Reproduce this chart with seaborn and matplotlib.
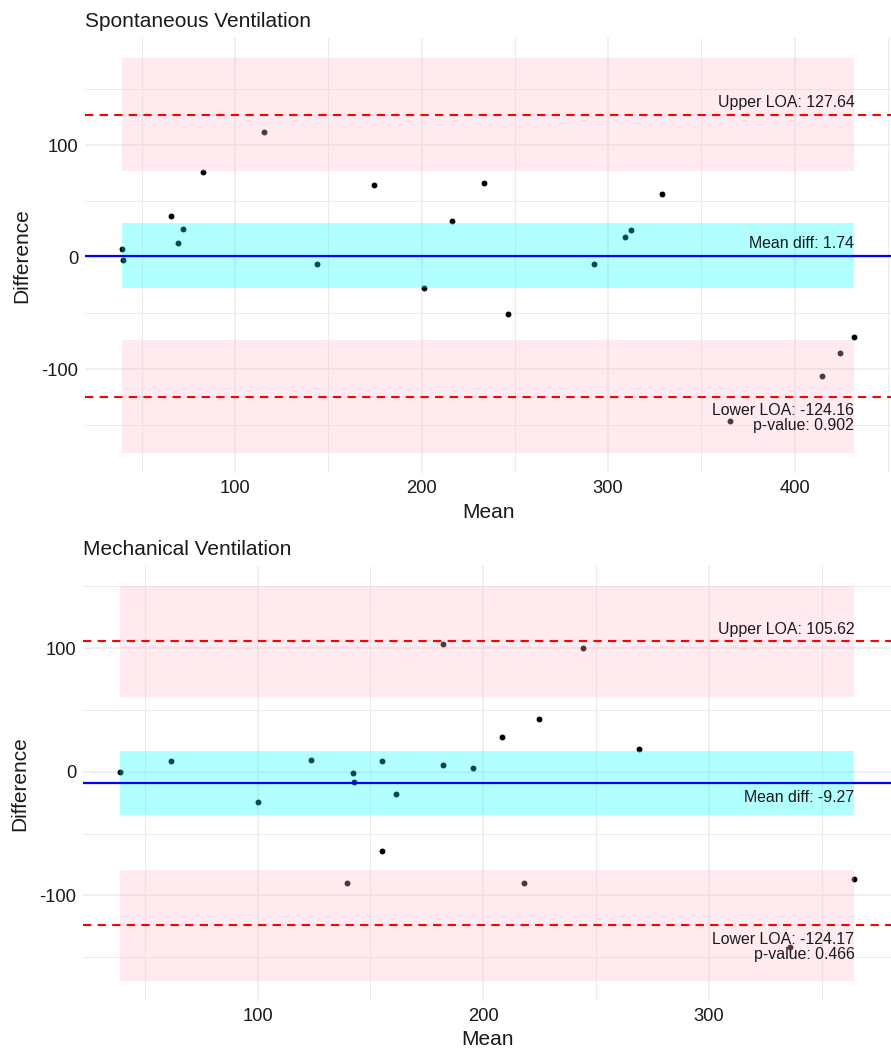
import matplotlib
matplotlib.use("Agg")
import matplotlib.pyplot as plt
from matplotlib.ticker import MultipleLocator
import numpy as np
import pandas as pd
import seaborn as sns

# ---- Spontaneous ventilation: Bland-Altman points ----
spont_mean = [39.1, 39.8, 65.8, 69.4, 72.1, 82.6, 115.5, 143.8, 174.4, 201.4, 216.4,
              233.5, 246.5, 292.2, 308.9, 312.5, 328.7, 365.5, 414.6, 424.4, 432.1]
spont_diff = [7.6, -2.2, 37.3, 13.2, 25.7, 75.9, 111.6, -6.1, 64.3, -27.2, 32.5,
              66.4, -50.4, -6.1, 18.0, 24.8, 56.6, -146.0, -105.6, -85.1, -70.9]
spont_stats = {"mean": 1.74, "upper": 127.64, "lower": -124.16, "p": 0.902}
spont_mean_ci = [-27.50, 30.98]
spont_upper_ci = [76.99, 178.29]
spont_lower_ci = [-174.81, -73.51]

# ---- Mechanical ventilation: Bland-Altman points ----
mech_mean = [38.9, 61.4, 100.1, 123.5, 139.4, 142.3, 142.7, 155.1, 155.1, 161.3,
             182.3, 182.3, 195.3, 208.3, 218.2, 224.6, 244.0, 269.0, 335.8, 364.4]
mech_diff = [0.2, 8.9, -24.8, 9.9, -90.1, -0.6, -8.6, 8.9, -64.0, -17.7,
             5.6, 103.2, 2.9, 28.2, -90.1, 43.0, 100.5, 18.8, -141.9, -86.6]
mech_stats = {"mean": -9.27, "upper": 105.62, "lower": -124.17, "p": 0.466}
mech_mean_ci = [-35.27, 16.73]
mech_upper_ci = [60.6, 150.6]
mech_lower_ci = [-169.2, -79.2]

sns.set_theme(style="white")
plt.rcParams["font.family"] = ["Liberation Sans", "DejaVu Sans"]
plt.rcParams["axes.unicode_minus"] = False

GRID = "#EBEBEB"
TXT = "#1A1A1A"


def bland_altman(ax, means, diffs, stats, mean_ci, upper_ci, lower_ci, title):
    df = pd.DataFrame({"Mean": means, "Difference": diffs})
    x0, x1 = min(means), max(means)

    # points sit under the translucent bands
    sns.scatterplot(data=df, x="Mean", y="Difference", ax=ax, color="black",
                    s=18, linewidth=0, zorder=2)

    for lo_hi, col in ((upper_ci, "pink"), (lower_ci, "pink"), (mean_ci, "cyan")):
        ax.fill_between([x0, x1], lo_hi[0], lo_hi[1], color=col, alpha=0.3,
                        linewidth=0, zorder=3)

    ax.axhline(stats["mean"], color="blue", lw=1.6, zorder=4)
    ax.axhline(stats["upper"], color="red", lw=1.5, ls=(0, (4, 3)), zorder=4)
    ax.axhline(stats["lower"], color="red", lw=1.5, ls=(0, (4, 3)), zorder=4)

    fs = 11.4
    ax.annotate(f"Upper LOA: {stats['upper']:.2f}", xy=(x1, stats["upper"]),
                xytext=(0, 3), textcoords="offset points", ha="right", va="bottom",
                fontsize=fs, color=TXT, zorder=5)
    if stats["mean"] >= 0:
        ax.annotate(f"Mean diff: {stats['mean']:.2f}", xy=(x1, stats["mean"]),
                    xytext=(0, 3), textcoords="offset points", ha="right",
                    va="bottom", fontsize=fs, color=TXT, zorder=5)
    else:
        ax.annotate(f"Mean diff: {stats['mean']:.2f}", xy=(x1, stats["mean"]),
                    xytext=(0, -5), textcoords="offset points", ha="right",
                    va="top", fontsize=fs, color=TXT, zorder=5)
    ax.annotate(f"Lower LOA: {stats['lower']:.2f}\np-value: {stats['p']:.3f}",
                xy=(x1, stats["lower"]), xytext=(0, -5), textcoords="offset points",
                ha="right", va="top", fontsize=fs, color=TXT, linespacing=0.95,
                multialignment="right", zorder=5)

    # ggplot-style 5% expansion of the data range
    xr = x1 - x0
    ax.set_xlim(x0 - 0.05 * xr, x1 + 0.05 * xr)
    ys = list(diffs) + list(mean_ci) + list(upper_ci) + list(lower_ci)
    y0, y1 = min(ys), max(ys)
    yr = y1 - y0
    ax.set_ylim(y0 - 0.05 * yr, y1 + 0.05 * yr)

    ax.xaxis.set_major_locator(MultipleLocator(100))
    ax.xaxis.set_minor_locator(MultipleLocator(50))
    ax.yaxis.set_major_locator(MultipleLocator(100))
    ax.yaxis.set_minor_locator(MultipleLocator(50))
    ax.grid(which="major", color=GRID, lw=1.1, zorder=0)
    ax.grid(which="minor", color=GRID, lw=0.7, zorder=0)
    ax.set_axisbelow(True)
    for sp in ax.spines.values():
        sp.set_visible(False)
    ax.tick_params(which="both", length=0, labelsize=13.2, labelcolor=TXT)
    ax.tick_params(axis="x", pad=5)
    ax.tick_params(axis="y", pad=5)
    ax.set_xlabel("Mean", fontsize=15, color=TXT, labelpad=4)
    ax.set_ylabel("Difference", fontsize=15, color=TXT, labelpad=7)
    ax.set_title(title, loc="left", fontsize=15, color=TXT, pad=8)


fig = plt.figure(figsize=(8.91, 10.53), dpi=100)
ax_top = fig.add_axes([0.0954, 0.5508, 0.9046, 0.4131])
ax_bot = fig.add_axes([0.0932, 0.0497, 0.9068, 0.4128])

bland_altman(ax_top, spont_mean, spont_diff, spont_stats, spont_mean_ci,
             spont_upper_ci, spont_lower_ci, "Spontaneous Ventilation")
bland_altman(ax_bot, mech_mean, mech_diff, mech_stats, mech_mean_ci,
             mech_upper_ci, mech_lower_ci, "Mechanical Ventilation")

fig.savefig("out.png", dpi=100, facecolor="white")
